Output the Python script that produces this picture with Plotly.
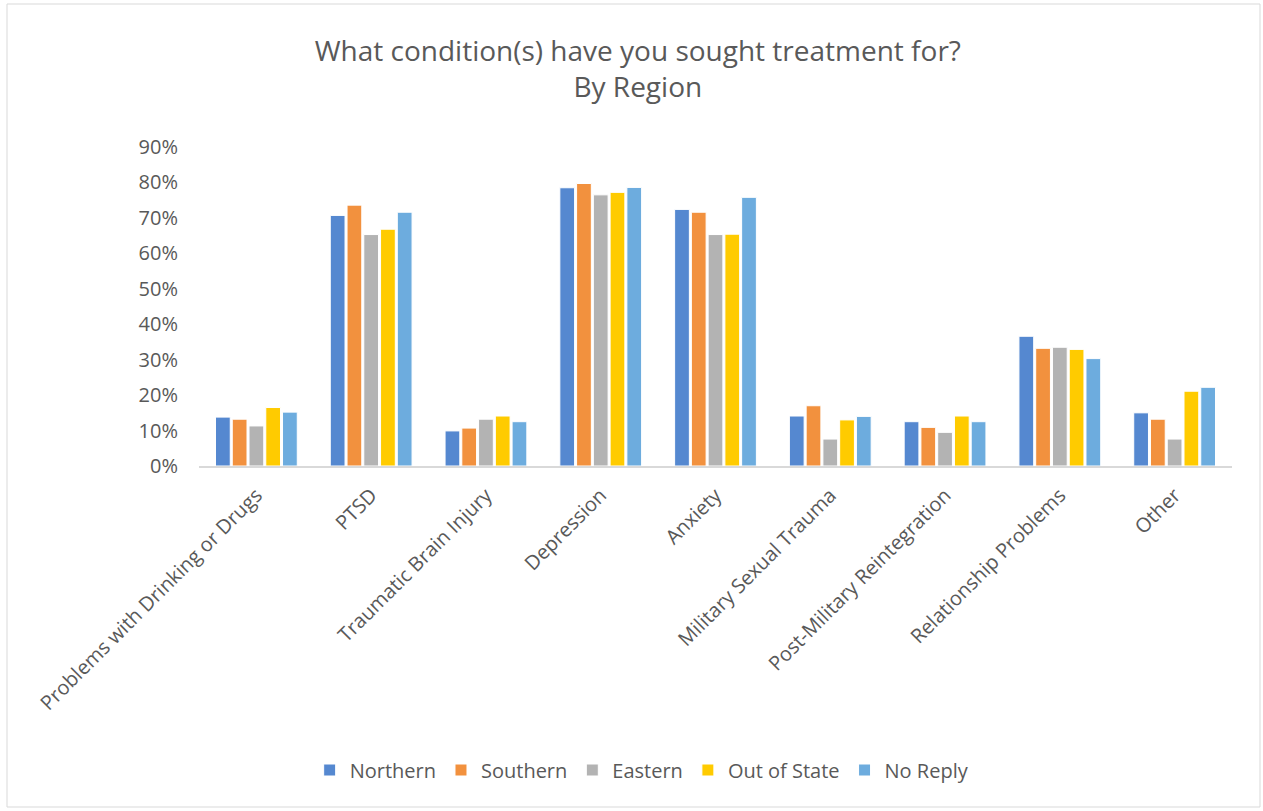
import plotly.graph_objects as go

categories = ["Problems with Drinking or Drugs", "PTSD", "Traumatic Brain Injury", "Depression",
              "Anxiety", "Military Sexual Trauma", "Post-Military Reintegration",
              "Relationship Problems", "Other"]
northern = [13.8, 70.7, 9.9, 78.5, 72.4, 14.1, 12.5, 36.6, 15.0]
southern = [13.2, 73.6, 10.7, 79.7, 71.6, 17.0, 10.9, 33.2, 13.2]
eastern = [11.3, 65.3, 13.2, 76.5, 65.3, 7.6, 9.5, 33.5, 7.6]
out_of_state = [16.5, 66.8, 14.1, 77.2, 65.4, 13.0, 14.1, 32.9, 21.1]
no_reply = [15.2, 71.6, 12.5, 78.6, 75.8, 14.0, 12.5, 30.3, 22.2]

series = [("Northern", northern, "#5588D0"), ("Southern", southern, "#F2913E"),
          ("Eastern", eastern, "#B3B3B3"), ("Out of State", out_of_state, "#FFCB00"),
          ("No Reply", no_reply, "#6DACDE")]

fig = go.Figure()
for name, vals, color in series:
    fig.add_trace(go.Bar(x=categories, y=[v / 100 for v in vals], name=name,
                         marker=dict(color=color, line=dict(color="white", width=1))))

font_color = "#595959"
fig.update_layout(
    width=1263, height=811,
    margin=dict(l=199, r=31, t=147, b=345),
    paper_bgcolor="white", plot_bgcolor="white",
    barmode="group", bargap=0.27, bargroupgap=0.12,
    font=dict(family="Open Sans", color=font_color, size=16),
    title=dict(text="What condition(s) have you sought treatment for?<br>By Region",
               x=0.505, xanchor="center", y=0.925, yanchor="middle",
               font=dict(size=28, color=font_color)),
    legend=dict(orientation="h", x=0.429, xanchor="center", y=-0.953, yanchor="middle",
                font=dict(size=20, color=font_color), itemwidth=30, traceorder="normal"),
    xaxis=dict(tickangle=-45, showline=True, linecolor="#D9D9D9", linewidth=1.5,
               tickfont=dict(size=20, color=font_color), ticks="", ticklabelstandoff=8),
    yaxis=dict(range=[0, 0.9], dtick=0.1, tickformat=".0%", showgrid=False,
               zeroline=False, tickfont=dict(size=20, color=font_color), ticklabelstandoff=20),
    showlegend=True,
)
fig.add_shape(type="rect", xref="paper", yref="paper",
              x0=-192 / 1033, x1=1 + 28 / 1033, y0=-341 / 319, y1=1 + 143 / 319,
              line=dict(color="#D9D9D9", width=1))
fig.write_html("out.html", config={"displayModeBar": False},
               post_script="document.body.style.margin='0';")
